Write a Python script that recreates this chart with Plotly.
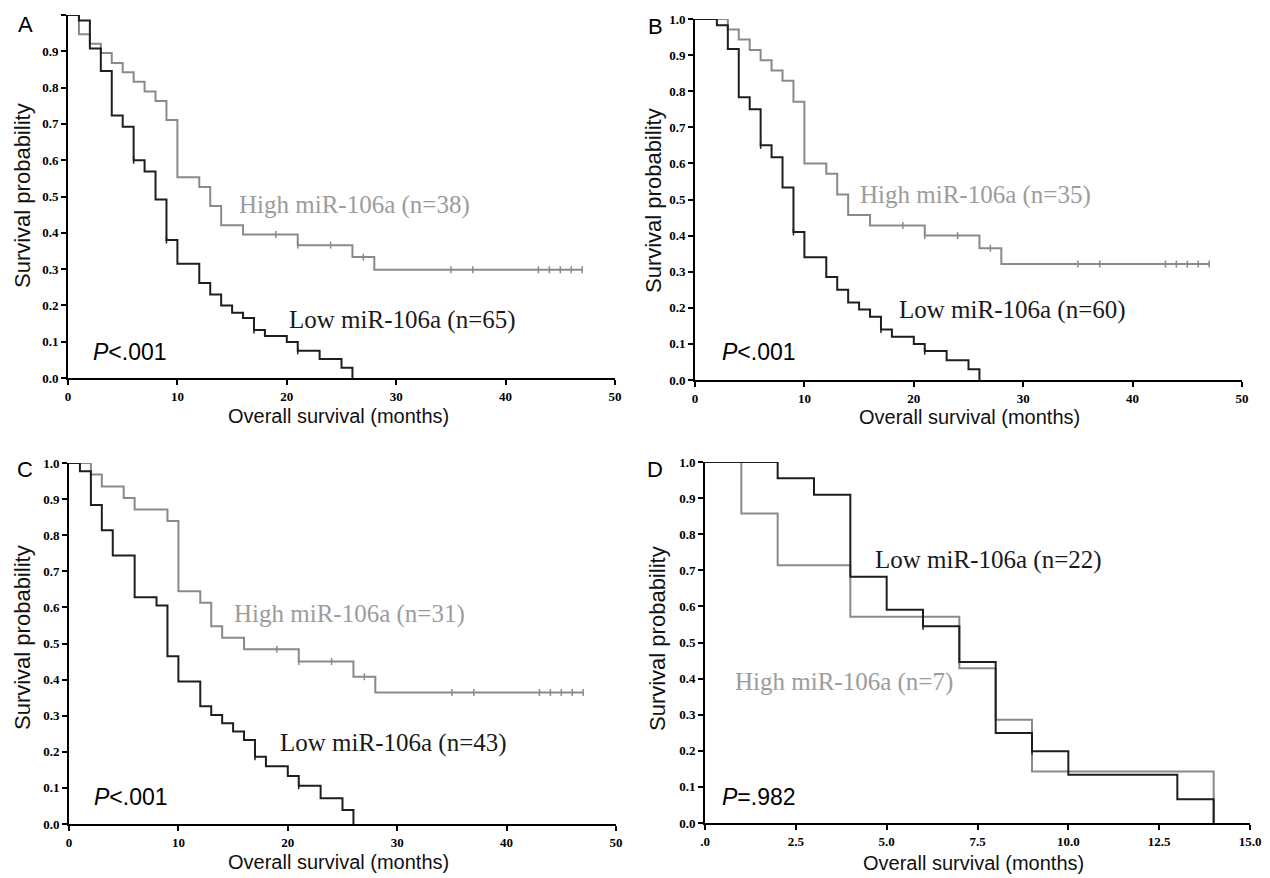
import plotly.graph_objects as go

# page body has an 8px default margin; the figure is sized to fill the rest
OFF = 8
W, H = 1270 - OFF, 878 - OFF

# ---------------- data ----------------
A_high_t = [0, 1, 2, 3, 4, 5, 6, 7, 8, 9, 10, 12, 13, 14, 16, 21, 26, 28, 47]
A_high_s = [1.0, 0.947, 0.921, 0.895, 0.868, 0.842, 0.816, 0.789, 0.763, 0.711, 0.553, 0.526, 0.474, 0.421, 0.395, 0.366, 0.333, 0.298, 0.298]
A_high_cens = [19, 21, 24, 27, 35, 37, 43, 44, 45, 46, 47]
A_low_t = [0, 1, 2, 3, 4, 5, 6, 7, 8, 9, 10, 12, 13, 14, 15, 16, 17, 18, 20, 21, 23, 25, 26]
A_low_s = [1.0, 0.985, 0.908, 0.846, 0.723, 0.692, 0.600, 0.569, 0.492, 0.380, 0.315, 0.262, 0.230, 0.200, 0.180, 0.165, 0.132, 0.116, 0.099, 0.075, 0.052, 0.028, 0.0]
A_low_cens = [6, 9, 17, 21]

B_high_t = [0, 3, 4, 5, 6, 7, 8, 9, 10, 12, 13, 14, 16, 21, 26, 28, 47]
B_high_s = [1.0, 0.971, 0.943, 0.914, 0.886, 0.857, 0.829, 0.771, 0.600, 0.571, 0.514, 0.457, 0.428, 0.400, 0.365, 0.321, 0.321]
B_high_cens = [19, 21, 24, 27, 35, 37, 43, 44, 45, 46, 47]
B_low_t = [0, 2, 3, 4, 5, 6, 7, 8, 9, 10, 12, 13, 14, 15, 16, 17, 18, 20, 21, 23, 25, 26]
B_low_s = [1.0, 0.983, 0.917, 0.783, 0.750, 0.650, 0.617, 0.533, 0.410, 0.340, 0.285, 0.250, 0.215, 0.195, 0.175, 0.140, 0.120, 0.100, 0.080, 0.055, 0.030, 0.0]
B_low_cens = [6, 9, 17, 21]

C_high_t = [0, 2, 3, 5, 6, 9, 10, 12, 13, 14, 16, 21, 26, 28, 47]
C_high_s = [1.0, 0.968, 0.935, 0.903, 0.871, 0.839, 0.645, 0.613, 0.548, 0.516, 0.484, 0.450, 0.408, 0.364, 0.364]
C_high_cens = [19, 21, 24, 27, 35, 37, 43, 44, 45, 46, 47]
C_low_t = [0, 1, 2, 3, 4, 6, 8, 9, 10, 12, 13, 14, 15, 16, 17, 18, 20, 21, 23, 25, 26]
C_low_s = [1.0, 0.977, 0.884, 0.814, 0.744, 0.628, 0.605, 0.465, 0.395, 0.326, 0.302, 0.279, 0.256, 0.233, 0.186, 0.160, 0.133, 0.106, 0.071, 0.039, 0.0]
C_low_cens = [17, 21]

D_low_t = [0, 2, 3, 4, 5, 6, 7, 8, 9, 10, 13, 14]
D_low_s = [1.0, 0.955, 0.909, 0.682, 0.591, 0.545, 0.446, 0.249, 0.199, 0.134, 0.066, 0.0]
D_low_cens = [6, 9]
D_high_t = [0, 1, 2, 4, 7, 8, 9, 14]
D_high_s = [1.0, 0.857, 0.714, 0.571, 0.429, 0.286, 0.143, 0.0]
D_high_cens = []

y_ticks = [0.0, 0.1, 0.2, 0.3, 0.4, 0.5, 0.6, 0.7, 0.8, 0.9, 1.0]
y_ticktext = ["0.0", "0.1", "0.2", "0.3", "0.4", "0.5", "0.6", "0.7", "0.8", "0.9", "1.0"]
x_ticks_50 = [0, 10, 20, 30, 40, 50]
x_ticktext_50 = ["0", "10", "20", "30", "40", "50"]
x_ticks_15 = [0, 2.5, 5, 7.5, 10, 12.5, 15]
x_ticktext_15 = [".0", "2.5", "5.0", "7.5", "10.0", "12.5", "15.0"]

high_labels = ["High miR-106a (n=38)", "High miR-106a (n=35)", "High miR-106a (n=31)", "High miR-106a (n=7)"]
low_labels = ["Low miR-106a (n=65)", "Low miR-106a (n=60)", "Low miR-106a (n=43)", "Low miR-106a (n=22)"]
p_labels = ["<i>P</i>&lt;.001", "<i>P</i>&lt;.001", "<i>P</i>&lt;.001", "<i>P</i>=.982"]
panel_letters = ["A", "B", "C", "D"]

# ---------------- styling ----------------
GRAY_LINE = "#8a8a8a"
GRAY_TEXT = "#9c9c9c"
BLACK_LINE = "#1e1e1e"
BLACK_TEXT = "#1a1a1a"


def px(x):
    return (x - OFF) / W


def py(y):
    return 1 - (y - OFF) / H


def step_value(ts, ss, t):
    v = ss[0]
    for ti, si in zip(ts, ss):
        if ti <= t:
            v = si
    return v


# panel geometry in window pixels: (x0, x1, ytop, ybottom)
panels = [
    (68, 615, 15, 378),
    (695, 1242, 19, 380),
    (69, 616, 463, 824),
    (705, 1250, 462, 823),
]

curves = [
    (A_high_t, A_high_s, A_high_cens, A_low_t, A_low_s, A_low_cens),
    (B_high_t, B_high_s, B_high_cens, B_low_t, B_low_s, B_low_cens),
    (C_high_t, C_high_s, C_high_cens, C_low_t, C_low_s, C_low_cens),
    (D_high_t, D_high_s, D_high_cens, D_low_t, D_low_s, D_low_cens),
]

fig = go.Figure()

for i, (geom, cv) in enumerate(zip(panels, curves)):
    x0, x1, yt, yb = geom
    ht, hs, hc, lt, ls, lc = cv
    xa = "x" if i == 0 else f"x{i+1}"
    ya = "y" if i == 0 else f"y{i+1}"
    order = [("high", ht, hs, hc, GRAY_LINE), ("low", lt, ls, lc, BLACK_LINE)]
    for name, t, s, c, col in order:
        fig.add_trace(go.Scatter(
            x=t, y=s, mode="lines", line=dict(color=col, width=2, shape="hv"),
            xaxis=xa, yaxis=ya, showlegend=False, hoverinfo="skip", cliponaxis=False))
        if c:
            fig.add_trace(go.Scatter(
                x=c, y=[step_value(t, s, ct) for ct in c], mode="markers",
                marker=dict(symbol="line-ns", size=5, line=dict(color=col, width=1.5)),
                xaxis=xa, yaxis=ya, showlegend=False, hoverinfo="skip", cliponaxis=False))

    xmax = 15 if i == 3 else 50
    tv = x_ticks_15 if i == 3 else x_ticks_50
    tt = x_ticktext_15 if i == 3 else x_ticktext_50
    ax_common = dict(showline=True, linecolor="black", linewidth=2, ticks="outside",
                     ticklen=5, tickwidth=1.5, tickcolor="black", showgrid=False,
                     zeroline=False, fixedrange=True, automargin=False,
                     tickfont=dict(family="Liberation Serif", size=13, color="black", weight="bold"))
    xkey = "xaxis" if i == 0 else f"xaxis{i+1}"
    ykey = "yaxis" if i == 0 else f"yaxis{i+1}"
    fig.layout[xkey] = dict(ax_common, domain=[px(x0), px(x1)], range=[0, xmax],
                            tickvals=tv, ticktext=tt, anchor=ya)
    fig.layout[ykey] = dict(ax_common, domain=[py(yb), py(yt)], range=[0, 1],
                            tickvals=y_ticks, ticktext=y_ticktext, anchor=xa)

# ---------------- text annotations ----------------
ann = []
letter_pos = [(25, 25), (655, 26), (25, 470), (655, 470)]
ytitle_pos = [(22, 196), (654, 201), (22, 638), (657, 639)]
xtitle_pos = [(338, 416), (969, 417), (338, 862), (973, 863)]
high_pos = [(237, 205), (858, 195), (232, 614), (733, 682)]
low_pos = [(287, 320), (897, 310), (278, 743), (873, 560)]
p_pos = [(91, 352), (720, 352), (92, 797), (720, 797)]

for i in range(4):
    ann.append(dict(text=panel_letters[i], x=px(letter_pos[i][0]), y=py(letter_pos[i][1]),
                    xref="paper", yref="paper", showarrow=False, xanchor="center", yanchor="middle",
                    font=dict(family="Liberation Sans", size=22, color="black")))
    ann.append(dict(text="Survival probability", x=px(ytitle_pos[i][0]), y=py(ytitle_pos[i][1]),
                    xref="paper", yref="paper", showarrow=False, textangle=-90,
                    xanchor="center", yanchor="middle",
                    font=dict(family="Liberation Sans", size=22, color="#111111")))
    ann.append(dict(text="Overall survival (months)", x=px(xtitle_pos[i][0]), y=py(xtitle_pos[i][1]),
                    xref="paper", yref="paper", showarrow=False, xanchor="center", yanchor="middle",
                    borderpad=0,
                    font=dict(family="Liberation Sans", size=20, color="#111111")))
    ann.append(dict(text=high_labels[i], x=px(high_pos[i][0]), y=py(high_pos[i][1]),
                    xref="paper", yref="paper", showarrow=False, xanchor="left", yanchor="middle",
                    font=dict(family="Liberation Serif", size=25, color=GRAY_TEXT)))
    ann.append(dict(text=low_labels[i], x=px(low_pos[i][0]), y=py(low_pos[i][1]),
                    xref="paper", yref="paper", showarrow=False, xanchor="left", yanchor="middle",
                    font=dict(family="Liberation Serif", size=25, color=BLACK_TEXT)))
    ann.append(dict(text=p_labels[i], x=px(p_pos[i][0]), y=py(p_pos[i][1]),
                    xref="paper", yref="paper", showarrow=False, xanchor="left", yanchor="middle",
                    font=dict(family="Liberation Sans", size=23, color="black")))

fig.update_layout(
    width=W, height=H, margin=dict(l=0, r=0, t=0, b=0, autoexpand=False),
    paper_bgcolor="white", plot_bgcolor="white",
    annotations=ann, showlegend=False,
)

fig.write_html("out.html")
